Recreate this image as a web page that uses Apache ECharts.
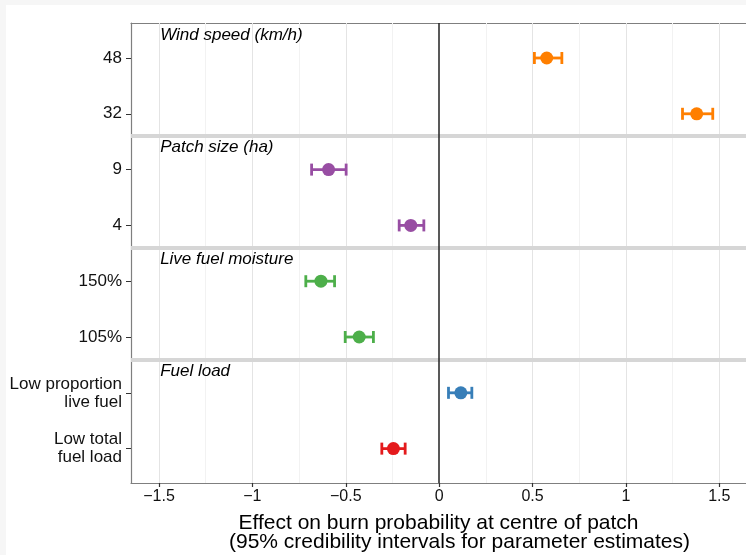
<!DOCTYPE html>
<html>
<head>
<meta charset="utf-8">
<script src="https://cdn.jsdelivr.net/npm/echarts@6/dist/echarts.min.js"></script>
<style>
  html, body { margin: 0; padding: 0; background: #f6f6f6; }
  #main { position: absolute; left: 6px; top: 5px; width: 740px; height: 550px; background: #ffffff; }
</style>
</head>
<body>
<div id="main"></div>
<script>
// rows from top to bottom
var yLabels = ['48', '32', '9', '4', '150%', '105%', 'Low proportion\nlive fuel', 'Low total\nfuel load'];
var estimate = [0.576, 1.379, -0.592, -0.152, -0.633, -0.428, 0.116, -0.245];
var lower    = [0.510, 1.303, -0.683, -0.214, -0.714, -0.503, 0.050, -0.307];
var upper    = [0.657, 1.465, -0.498, -0.082, -0.560, -0.352, 0.175, -0.182];
var rowColors = ['#ff7f00', '#ff7f00', '#984ea3', '#984ea3', '#4daf4a', '#4daf4a', '#377eb8', '#e41a1c'];

var groupNames = ['Wind speed (km/h)', 'Patch size (ha)', 'Live fuel moisture', 'Fuel load'];
var groupRows = [-0.41, 1.6, 3.61, 5.62];
var separators = [1.4, 3.4, 5.4];

var xTicks = [-1.5, -1, -0.5, 0, 0.5, 1, 1.5];
var majorGrid = [-1.5, -1, -0.5, 0.5, 1, 1.5];
var minorGrid = [-1.25, -0.75, -0.25, 0.25, 0.75, 1.25];

var chart = echarts.init(document.getElementById('main'));

var pointData = [];
var barData = [];
for (var i = 0; i < yLabels.length; i++) {
    pointData.push({ value: [estimate[i], i], itemStyle: { color: rowColors[i], opacity: 1 } });
    barData.push([lower[i], upper[i], i]);
}
var titleData = [];
for (var g = 0; g < groupNames.length; g++) {
    titleData.push({ value: [-1.494, groupRows[g]], name: groupNames[g] });
}

var gridLines = [];
majorGrid.forEach(function (v) { gridLines.push({ xAxis: v, lineStyle: { color: '#e4e4e4', width: 1, type: 'solid' } }); });
minorGrid.forEach(function (v) { gridLines.push({ xAxis: v, lineStyle: { color: '#f2f2f2', width: 1, type: 'solid' } }); });

var sepLines = separators.map(function (v) { return { yAxis: v }; });

var font = 'Liberation Sans, Arial, sans-serif';

chart.setOption({
    animation: false,
    grid: { left: 125, top: 18, right: 0, bottom: 72 },
    xAxis: [{
        type: 'value', min: -1.65, max: 1.643,
        name: 'Effect on burn probability at centre of patch',
        nameLocation: 'middle', nameGap: 30,
        nameTextStyle: { fontSize: 21, color: '#000', fontFamily: font },
        axisLine: { show: true, onZero: false, lineStyle: { color: '#7f7f7f', width: 1.2 } },
        axisTick: { show: true, length: 4, lineStyle: { color: '#333', width: 1.2 }, customValues: xTicks },
        axisLabel: {
            customValues: xTicks, margin: 6, fontSize: 16, color: '#111', fontFamily: font,
            formatter: function (v) { return String(v).replace('-', '\u2212'); }
        },
        splitLine: { show: false }
    }, {
        type: 'value', position: 'top', min: -1.65, max: 1.643,
        axisLine: { show: true, onZero: false, lineStyle: { color: '#7f7f7f', width: 1.2 } },
        axisTick: { show: false }, axisLabel: { show: false }, splitLine: { show: false }
    }],
    yAxis: {
        type: 'value', inverse: true, min: -0.627, max: 7.616,
        axisLine: { show: true, onZero: false, lineStyle: { color: '#7f7f7f', width: 1.2 } },
        axisTick: { show: true, length: 5, lineStyle: { color: '#333' }, customValues: [0, 1, 2, 3, 4, 5, 6, 7] },
        axisLabel: {
            customValues: [0, 1, 2, 3, 4, 5, 6, 7], margin: 9, fontSize: 17, color: '#111',
            fontFamily: font, lineHeight: 18, align: 'right',
            formatter: function (v) { return yLabels[Math.round(v)]; }
        },
        splitLine: { show: false }
    },
    graphic: [{
        type: 'text', left: 229 - 6, top: 532 - 5,
        style: {
            text: '(95% credibility intervals for parameter estimates)',
            fontSize: 21, fill: '#000', fontFamily: font
        }
    }],
    series: [{
        type: 'line', data: [], silent: true,
        markLine: {
            silent: true, symbol: 'none', label: { show: false }, z: 1,
            data: gridLines
        }
    }, {
        type: 'line', data: [], silent: true, z: 3,
        markLine: {
            silent: true, symbol: 'none', label: { show: false },
            lineStyle: { color: '#d6d6d6', width: 4, type: 'solid' },
            data: sepLines
        }
    }, {
        type: 'line', data: [], silent: true, z: 4,
        markLine: {
            silent: true, symbol: 'none', label: { show: false },
            lineStyle: { color: '#222', width: 1.5, type: 'solid' },
            data: [{ xAxis: 0 }]
        }
    }, {
        type: 'custom', z: 5,
        data: barData,
        renderItem: function (params, api) {
            var a = api.coord([api.value(0), api.value(2)]);
            var b = api.coord([api.value(1), api.value(2)]);
            var c = rowColors[api.value(2)];
            var h = 6;
            var st = { stroke: c, lineWidth: 2.8 };
            return {
                type: 'group', children: [
                    { type: 'line', shape: { x1: a[0], y1: a[1], x2: b[0], y2: b[1] }, style: st },
                    { type: 'line', shape: { x1: a[0], y1: a[1] - h, x2: a[0], y2: a[1] + h }, style: st },
                    { type: 'line', shape: { x1: b[0], y1: b[1] - h, x2: b[0], y2: b[1] + h }, style: st }
                ]
            };
        }
    }, {
        type: 'scatter', z: 6, symbol: 'circle', symbolSize: 13,
        itemStyle: { opacity: 1 },
        data: pointData
    }, {
        type: 'scatter', z: 6, symbolSize: 0, silent: true,
        itemStyle: { opacity: 1 },
        data: titleData,
        label: {
            show: true, position: 'right', distance: 0,
            fontSize: 17, fontStyle: 'italic', color: '#000', fontFamily: font,
            formatter: function (p) { return p.name; }
        }
    }]
});
</script>
</body>
</html>
